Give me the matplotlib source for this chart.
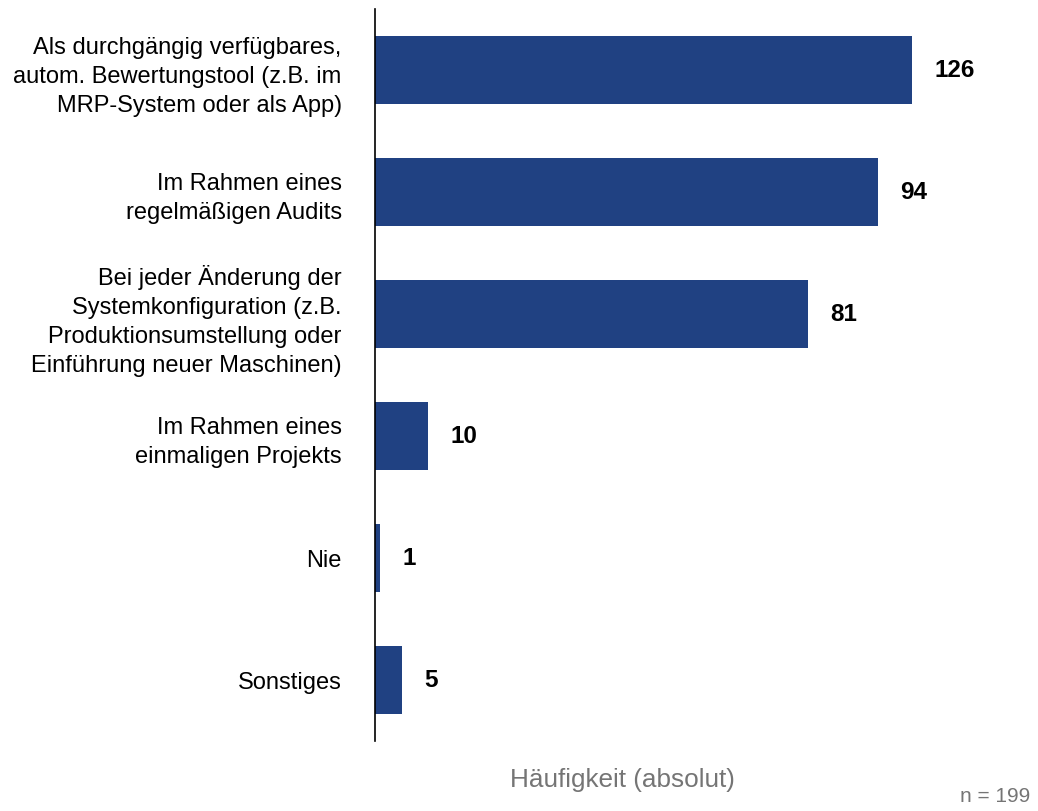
import matplotlib
matplotlib.use("Agg")
from matplotlib import pyplot as plt

plt.rcParams['font.family'] = ['Liberation Sans', 'DejaVu Sans']

categories = [
    "Als durchgängig verfügbares,\nautom. Bewertungstool (z.B. im\nMRP-System oder als App)",
    "Im Rahmen eines\nregelmäßigen Audits",
    "Bei jeder Änderung der\nSystemkonfiguration (z.B.\nProduktionsumstellung oder\nEinführung neuer Maschinen)",
    "Im Rahmen eines\neinmaligen Projekts",
    "Nie",
    "Sonstiges",
]
values = [126, 94, 81, 10, 1, 5]
x_label = "Häufigkeit (absolut)"
n_note = "n = 199"

bar_color = '#204182'
x_max = 100.4  # longest bar is cut at the axes edge like in the original

fig = plt.figure(figsize=(10.38, 8.12), dpi=100)
ax = fig.add_axes([375 / 1038, 1 - 742 / 812, (912 - 375) / 1038, 732 / 812])

pos = list(range(len(values)))
ax.barh(pos, values, height=0.55, color=bar_color)
ax.set_xlim(0, x_max)
ax.set_ylim(len(values) - 0.5, -0.5)

for p, v in zip(pos, values):
    ax.annotate(str(v), xy=(min(v, x_max), p), xytext=(16, 0), textcoords='offset points',
                ha='left', va='center', fontsize=17.5, fontweight='bold', annotation_clip=False)

ax.set_yticks(pos)
ax.set_yticklabels(categories, fontsize=17, linespacing=1.4)
ax.tick_params(axis='y', length=0, pad=24)
ax.set_xticks([])
for s in ['top', 'right', 'bottom']:
    ax.spines[s].set_visible(False)
ax.spines['left'].set_linewidth(1.2)

fig.text(622 / 1038, 1 - 780 / 812, x_label, ha='center', va='center', fontsize=18.8, color='#757575')
fig.text(1030 / 1038, 1 - 797 / 812, n_note, ha='right', va='center', fontsize=15, color='#757575')

fig.savefig('out.png', dpi=100)
